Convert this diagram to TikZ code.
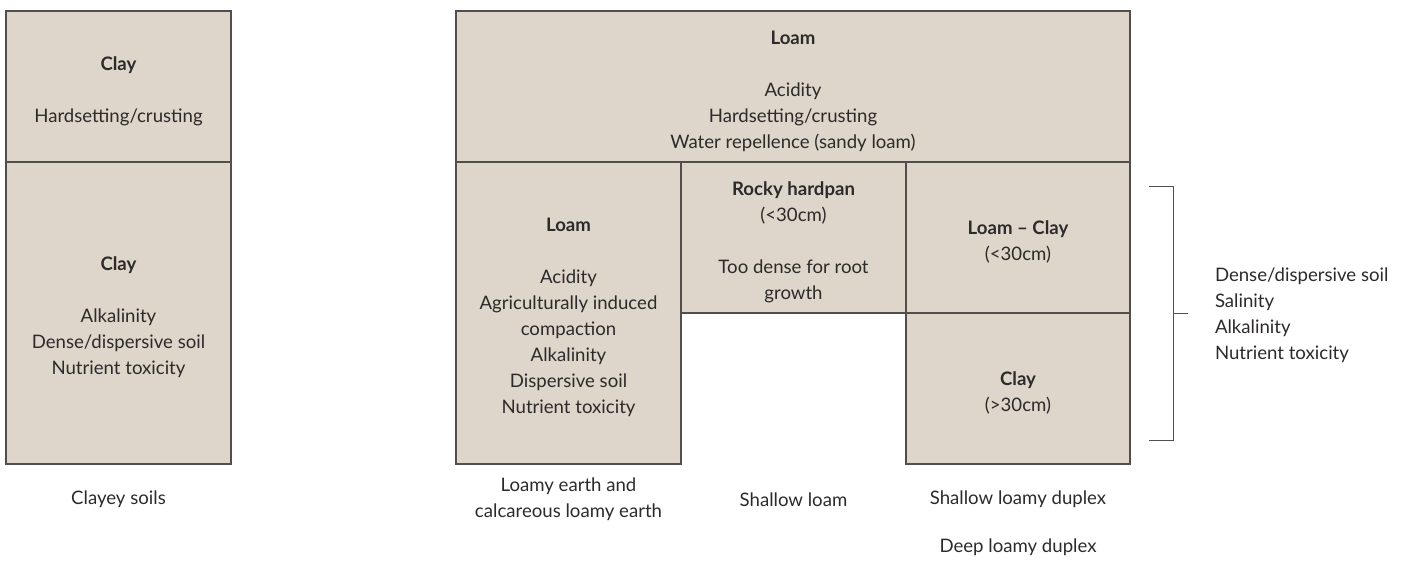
\documentclass[tikz,border=0pt]{standalone}
\usepackage{fontspec}
\setmainfont{Lato}
\usetikzlibrary{positioning}
\definecolor{soil}{RGB}{222,213,203}
\definecolor{rim}{RGB}{82,78,76}
\definecolor{ink}{RGB}{45,42,42}
\newcommand{\soilname}[1]{\rule{0pt}{23pt}\textbf{#1}}
\tikzset{layer/.style={draw=rim, fill=soil, line width=1.2pt, inner sep=0pt, outer sep=0pt, align=center, text=ink}}
\tikzstyle{caption}=[align=center, text=ink, inner sep=0pt, outer sep=0pt]

\begin{document}
\begin{tikzpicture}[x=1pt, y=-1pt, font=\fontsize{18.6}{26}\selectfont]
\useasboundingbox (0,0) rectangle (1405,572);
% clayey soils column
\node[layer, minimum width=225pt, minimum height=151pt] at (118.5,86.5) (C1){\soilname{Clay}\\[26pt]Hardsetting/crusting};
\node[layer, minimum width=225pt, minimum height=302pt][below=0pt of C1] (C2){\soilname{Clay}\\[26pt]Alkalinity\\Dense/dispersive soil\\Nutrient toxicity};
% loamy soils
\node[layer, minimum width=674pt, minimum height=151pt] at (793,86.5) (L0){\soilname{Loam}\\[26pt]Acidity\\Hardsetting/crusting\\Water repellence (sandy loam)};
\node[layer, minimum width=225pt, minimum height=302pt][below right=0pt and 0pt of L0.south west] (L1){\soilname{Loam}\\[26pt]Acidity\\Agriculturally induced\\compaction\\Alkalinity\\Dispersive soil\\Nutrient toxicity};
\node[layer, minimum width=225pt, minimum height=151pt][below right=0pt and 0pt of L1.north east] (R1){\soilname{Rocky hardpan}\\(<30cm)\\[26pt]Too dense for root\\growth};
\node[layer, minimum width=224pt, minimum height=151pt][below right=0pt and 0pt of R1.north east] (D1){\soilname{Loam -- Clay}\\(<30cm)};
\node[layer, minimum width=224pt, minimum height=151pt][below=0pt of D1] (D2){\soilname{Clay}\\(>30cm)};
% soil group names
\node[caption][below=35.5pt of C2, anchor=center] (clayeyLab){Clayey soils};
\node[caption][below=35.5pt of L1, anchor=center] (loamyLab){Loamy earth and\\calcareous loamy earth};
\node[caption] at (R1 |- loamyLab) (shallowLab){Shallow loam};
\node[caption] at (D2 |- loamyLab) (duplexLab){Shallow loamy duplex};
\node[caption][below=48pt of duplexLab.center, anchor=center] (deepLab){Deep loamy duplex};
% subsoil bracket
\coordinate (bTop) at (1149,187);
\coordinate (bBot) at (1149,440);
\coordinate (bTip) at (1188,313);
\draw[rim, line width=1pt] (bTop) -- ++(24,0) -- ++(0,253) -- (bBot)
  (1173,313) -- (bTip);
\node[caption, align=left, anchor=west] at (1215,315) (subsoilLab){Dense/dispersive soil\\Salinity\\Alkalinity\\Nutrient toxicity};
\end{tikzpicture}
\end{document}
